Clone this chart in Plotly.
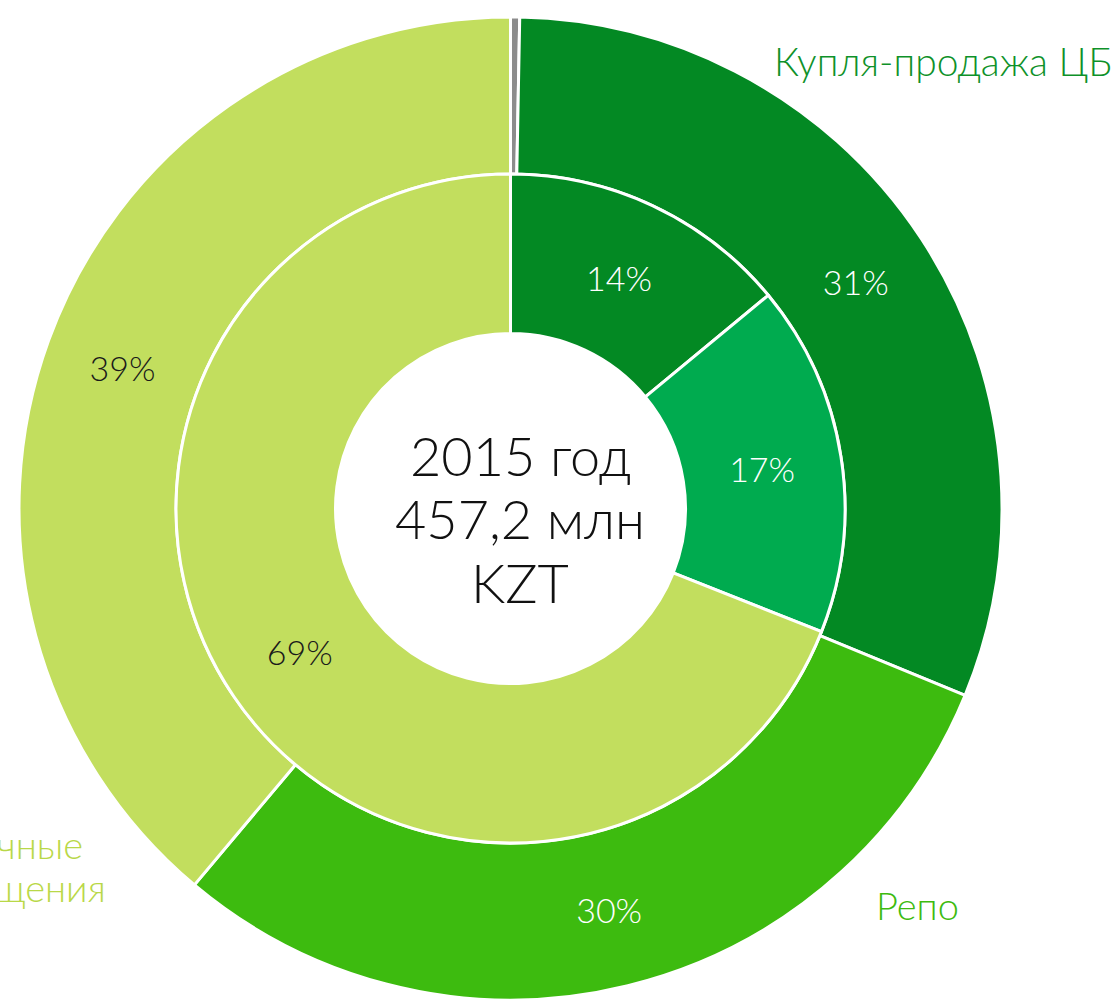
import plotly.graph_objects as go

# Outer ring: income structure by operation type, %
outer_labels = ["Прочее", "Купля-продажа ЦБ", "Репо", "Срочные размещения"]
outer_values = [0.3, 31, 30, 39]
outer_colors = ["#8C8C8C", "#038923", "#3DBB0F", "#C2DE5E"]
outer_text_colors = ["#FFFFFF", "#FFFFFF", "#FFFFFF", "#1A1A1A"]

# Inner ring, %
inner_labels = ["Купля-продажа ЦБ", "Репо", "Срочные размещения"]
inner_values = [14, 17, 69]
inner_colors = ["#038923", "#00AB4F", "#C2DE5E"]
inner_text_colors = ["#FFFFFF", "#FFFFFF", "#1A1A1A"]

center_lines = ["2015 год", "457,2 млн", "KZT"]

FONT = "Lato, 'Open Sans', sans-serif"
W, H = 1120, 1000
CX, CY = 510.5, 508.5          # pie centre, px from top-left
R_OUT, R_MID, R_HOLE = 491.5, 334.5, 175.0


def dom(r):
    return dict(x=[(CX - r) / W, (CX + r) / W],
                y=[1 - (CY + r) / H, 1 - (CY - r) / H])


def tmpl(values):
    return ["" if v < 1 else "%{value}%" for v in values]


fig = go.Figure()
fig.add_trace(go.Pie(
    labels=outer_labels, values=outer_values, sort=False,
    direction="clockwise", rotation=0,
    hole=R_MID / R_OUT, domain=dom(R_OUT),
    marker=dict(colors=outer_colors, line=dict(color="white", width=3)),
    texttemplate=tmpl(outer_values), textposition="inside",
    insidetextorientation="horizontal",
    textfont=dict(family=FONT, size=34, color=outer_text_colors, weight=300),
    hoverinfo="label+value", showlegend=False,
))
fig.add_trace(go.Pie(
    labels=inner_labels, values=inner_values, sort=False,
    direction="clockwise", rotation=0,
    hole=R_HOLE / R_MID, domain=dom(R_MID),
    marker=dict(colors=inner_colors, line=dict(color="white", width=3)),
    texttemplate=tmpl(inner_values), textposition="inside",
    insidetextorientation="horizontal",
    textfont=dict(family=FONT, size=34, color=inner_text_colors, weight=300),
    hoverinfo="label+value", showlegend=False,
))

annotations = []
for line, yc in zip(center_lines, [455, 518, 582]):
    annotations.append(dict(
        text=line, x=520 / W, y=1 - yc / H, xref="paper", yref="paper",
        xanchor="center", yanchor="middle", showarrow=False,
        font=dict(family=FONT, size=54, color="#111111", weight=300)))

side_labels = [
    ("Купля-продажа ЦБ", 1114, 61, "#0E9129", 39),
    ("Репо", 961, 905, "#3DBB0F", 38),
    ("Срочные", 85, 844, "#B9D848", 38),
    ("размещения", 108, 887, "#B9D848", 38),
]
for txt, xr, yc, col, size in side_labels:
    annotations.append(dict(
        text=txt, x=xr / W, y=1 - yc / H, xref="paper", yref="paper",
        xanchor="right", yanchor="middle", showarrow=False,
        font=dict(family=FONT, size=size, color=col, weight=300)))

fig.update_layout(
    width=W, height=H,
    margin=dict(l=0, r=0, t=0, b=0),
    paper_bgcolor="white", plot_bgcolor="white",
    annotations=annotations,
)

fig.write_html("out.html")
